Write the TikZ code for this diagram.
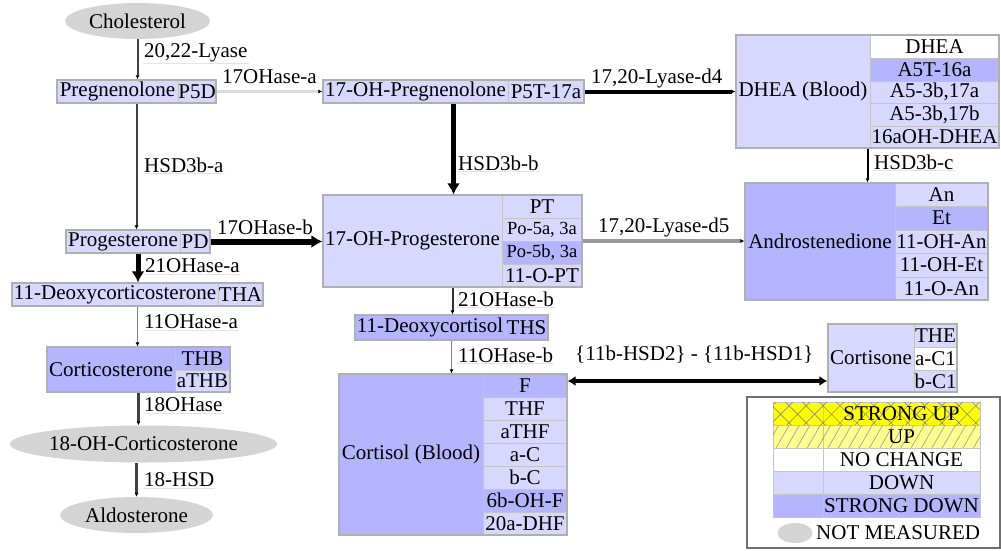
\documentclass[tikz,border=0pt]{standalone}
\usepackage{fontspec}
\setmainfont{Liberation Serif}
\newfontfamily\lserif{Liberation Serif}
\usetikzlibrary{shapes.geometric,arrows.meta,patterns.meta,calc}
\definecolor{dn}{HTML}{D7D7FF}
\definecolor{sd}{HTML}{B5B5FF}
\definecolor{cellb}{HTML}{C4C4C4}
\definecolor{frameb}{HTML}{B0B0B0}
\definecolor{ellg}{HTML}{D4D4D4}
\definecolor{ulg}{HTML}{E4E4E4}
\definecolor{syel}{HTML}{FFFF00}
\definecolor{lyel}{HTML}{FFFF90}
\definecolor{lgframe}{HTML}{707070}
\newcommand\dfont{\lserif\fontsize{21}{23}\selectfont}
\newcommand\lgfont{\lserif\fontsize{20}{22}\selectfont}
\newcommand\sfont{\lserif\fontsize{18.5}{19}\selectfont}
\newcommand\mycell[7][]{\node[cell,#1,minimum width={#5-#3},minimum height={#6-#4}] (#2) at ({(#3+#5)/2},{(#4+#6)/2}) {#7};}
\newcommand\mytable[5]{\node[tframe,minimum width={#4-#2},minimum height={#5-#3}] (#1) at ({(#2+#4)/2},{(#3+#5)/2}) {};}
\begin{document}
\begin{tikzpicture}[x=1pt,y=-1pt,
  cell/.style={draw=cellb, line width=1pt, inner sep=0pt, font=\dfont, align=center},
  tframe/.style={draw=frameb, line width=1.2pt, inner sep=0pt},
  ell/.style={ellipse, fill=ellg, inner sep=0pt, font=\dfont},
  elab/.style={inner sep=1pt, font=\dfont, anchor=west},
  uline/.style={draw=ulg, line width=1.5pt},
  tipS/.style={-{Latex[length=4pt,width=4pt,color=black]}},
  tipL/.style={-{Latex[length=11pt,width=13pt]}},
  edk/.style={draw=black!75, line width=2pt, tipS},
  elight/.style={draw=black!14, line width=3pt, tipS},
  ethin/.style={draw=black!50, line width=1.2pt, tipS},
  ebold/.style={draw=black, line width=4pt, tipS},
  ebig/.style={draw=black, line width=5pt, tipL},
  egray/.style={draw=black!40, line width=4pt, tipS},
  ]
\useasboundingbox (0,0) rectangle (1001,550);
\fill[white] (0,0) rectangle (1001,550);

% ---------- ellipses ----------
\node[ell, minimum width=145, minimum height=36] (chol) at (137.5,21) {Cholesterol};
\node[ell, minimum width=267, minimum height=37] (oh18) at (143.5,444) {18-OH-Corticosterone};
\node[ell, minimum width=153, minimum height=36] (aldo) at (136.5,515) {Aldosterone};

% ---------- Pregnenolone ----------
\mycell[fill=dn]{pregA}{57}{80}{178}{103}{Pregnenolone}
\mycell[fill=dn]{pregB}{178}{80}{216}{103}{P5D}
\mytable{pregT}{57}{80}{216}{103}

% ---------- 17-OH-Pregnenolone ----------
\mycell[fill=dn]{ohpA}{323}{80}{508}{103}{17-OH-Pregnenolone}
\mycell[fill=dn]{ohpB}{508}{80}{584}{103}{P5T-17a}
\mytable{ohpT}{323}{80}{584}{103}

% ---------- DHEA ----------
\mycell[fill=dn]{dheaA}{736}{35}{870}{148}{DHEA (Blood)}
\mycell[fill=white]{dheaB}{870}{35}{999}{58}{DHEA}
\mycell[fill=sd]{dheaC}{870}{58}{999}{81}{A5T-16a}
\mycell[fill=dn]{dheaD}{870}{81}{999}{103}{A5-3b,17a}
\mycell[fill=dn]{dheaE}{870}{103}{999}{126}{A5-3b,17b}
\mycell[fill=dn]{dheaF}{870}{126}{999}{148}{16aOH-DHEA}
\mytable{dheaT}{736}{35}{999}{148}

% ---------- Progesterone ----------
\mycell[fill=dn]{progA}{66}{230}{180}{253}{Progesterone}
\mycell[fill=dn]{progB}{180}{230}{210}{253}{PD}
\mytable{progT}{66}{230}{210}{253}

% ---------- 17-OH-Progesterone ----------
\mycell[fill=dn]{ohprA}{323}{195}{502}{287}{17-OH-Progesterone}
\mycell[fill=dn]{ohprB}{502}{195}{582}{218}{PT}
\mycell[fill=dn,font=\sfont]{ohprC}{502}{218}{582}{241}{Po-5a, 3a}
\mycell[fill=sd,font=\sfont]{ohprD}{502}{241}{582}{264}{Po-5b, 3a}
\mycell[fill=dn]{ohprE}{502}{264}{582}{287}{11-O-PT}
\mytable{ohprT}{323}{195}{582}{287}

% ---------- Androstenedione ----------
\mycell[fill=sd]{andA}{745}{183}{895}{300}{Androstenedione}
\mycell[fill=dn]{andB}{895}{183}{988}{206}{An}
\mycell[fill=sd]{andC}{895}{206}{988}{230}{Et}
\mycell[fill=dn]{andD}{895}{230}{988}{253}{11-OH-An}
\mycell[fill=dn]{andE}{895}{253}{988}{277}{11-OH-Et}
\mycell[fill=dn]{andF}{895}{277}{988}{300}{11-O-An}
\mytable{andT}{745}{183}{988}{300}

% ---------- 11-Deoxycorticosterone ----------
\mycell[fill=dn]{docA}{12}{283}{218}{306}{11-Deoxycorticosterone}
\mycell[fill=dn]{docB}{218}{283}{263}{306}{THA}
\mytable{docT}{12}{283}{263}{306}

% ---------- Corticosterone ----------
\mycell[fill=sd]{cortA}{47}{347}{175}{392}{Corticosterone}
\mycell[fill=sd]{cortB}{175}{347}{230}{370}{THB}
\mycell[fill=dn]{cortC}{175}{370}{230}{392}{aTHB}
\mytable{cortT}{47}{347}{230}{392}

% ---------- 11-Deoxycortisol ----------
\mycell[fill=sd]{dcsA}{355}{315}{505}{340}{11-Deoxycortisol}
\mycell[fill=sd]{dcsB}{505}{315}{548}{340}{THS}
\mytable{dcsT}{355}{315}{548}{340}

% ---------- Cortisol ----------
\mycell[fill=sd]{csolA}{339}{374}{483}{535}{Cortisol (Blood)}
\mycell[fill=sd]{csolB}{483}{374}{567}{397}{F}
\mycell[fill=dn]{csolC}{483}{397}{567}{420}{THF}
\mycell[fill=dn]{csolD}{483}{420}{567}{443}{aTHF}
\mycell[fill=dn]{csolE}{483}{443}{567}{466}{a-C}
\mycell[fill=dn]{csolF}{483}{466}{567}{489}{b-C}
\mycell[fill=sd]{csolG}{483}{489}{567}{512}{6b-OH-F}
\mycell[fill=dn]{csolH}{483}{512}{567}{535}{20a-DHF}
\mytable{csolT}{339}{374}{567}{535}

% ---------- Cortisone ----------
\mycell[fill=dn]{csA}{828}{324}{914}{392}{Cortisone}
\mycell[fill=dn]{csB}{914}{324}{957}{347}{THE}
\mycell[fill=white]{csC}{914}{347}{957}{370}{a-C1}
\mycell[fill=dn]{csD}{914}{370}{957}{392}{b-C1}
\mytable{csT}{828}{324}{957}{392}

% ---------- edges ----------
\draw[edk] (chol.south) -- (chol.south |- pregT.north);
\draw[elight] (pregT.east) -- (pregT.east -| ohpT.west);
\draw[edk] (pregT.south) -- (pregT.south |- progT.north);
\draw[ebold] (ohpT.east) -- (ohpT.east -| dheaT.west);
\draw[ebig] (ohpT.south) -- (ohpT.south |- ohprT.north);
\draw[draw=black, line width=2pt, tipS] (dheaT.south) -- (dheaT.south |- andT.north);
\draw[draw=black, line width=6pt, tipL] (progT.east) -- (progT.east -| ohprT.west);
\draw[egray] (ohprT.east) -- (ohprT.east -| andT.west);
\draw[ebig] (progT.south) -- (progT.south |- docT.north);
\draw[ethin] (docT.south) -- (docT.south |- cortT.north);
\draw[draw=black!80, line width=2pt, tipS] (ohprT.south) -- (ohprT.south |- dcsT.north);
\draw[ethin] (dcsT.south) -- (dcsT.south |- csolT.north);
\draw[edk, line width=2.5pt] (cortT.south) -- (cortT.south |- oh18.north);
\draw[edk, line width=2.5pt] (aldo.north |- oh18.south) -- (aldo.north);
\draw[draw=black, line width=4.5pt, {Latex[length=8pt,width=10pt]}-{Latex[length=8pt,width=10pt]}] (csolT.east |- csD.west) -- (csT.west |- csD.west);

% ---------- edge labels ----------
\node[elab] (l1) at (143,53) {20,22-Lyase};
\node[elab] (l2) at (221,77) {17OHase-a};
\node[elab] (l3) at (143,165) {HSD3b-a};
\node[elab] (l4) at (590,78) {17,20-Lyase-d4};
\node[elab] (l5) at (457,163) {HSD3b-b};
\node[elab] (l6) at (873,162) {HSD3b-c};
\node[elab] (l7) at (216,227) {17OHase-b};
\node[elab] (l8) at (597,227) {17,20-Lyase-d5};
\node[elab] (l9) at (144,266) {21OHase-a};
\node[elab] (l10) at (143,322) {11OHase-a};
\node[elab] (l11) at (457,299) {21OHase-b};
\node[elab] (l12) at (457,355) {11OHase-b};
\node[elab] (l13) at (143,405) {18OHase};
\node[elab] (l14) at (143,480) {18-HSD};
\node[elab] (l15) at (574,355) {\{11b-HSD2\} - \{11b-HSD1\}};
\foreach \l in {l1,l3,l5,l6,l9,l10,l11,l12,l13,l14}
  \draw[uline] (\l.south west) -- (\l.south east);

% ---------- legend ----------
\node[draw=lgframe, line width=2pt, inner sep=0pt, minimum width=253, minimum height=151] (legT) at (873.5,472.5) {};
\begin{scope}[every node/.append style={font=\lgfont}]
\mycell[fill=syel, postaction={pattern={Hatch[angle=45,distance=12pt,line width=0.6pt]}, pattern color=black!45}]{lgA1}{773}{402}{823}{425}{}
\mycell[fill=syel, postaction={pattern={Hatch[angle=45,distance=12pt,line width=0.6pt]}, pattern color=black!45}]{lgA2}{823}{402}{980}{425}{STRONG UP}
\mycell[fill=lyel, postaction={pattern={Lines[angle=60,distance=9pt,line width=0.6pt]}, pattern color=black!40}]{lgB1}{773}{425}{823}{448}{}
\mycell[fill=lyel, postaction={pattern={Lines[angle=60,distance=9pt,line width=0.6pt]}, pattern color=black!40}]{lgB2}{823}{425}{980}{448}{UP}
\mycell[fill=white]{lgC1}{773}{448}{823}{471}{}
\mycell[fill=white]{lgC2}{823}{448}{980}{471}{NO CHANGE}
\mycell[fill=dn]{lgD1}{773}{471}{823}{494}{}
\mycell[fill=dn]{lgD2}{823}{471}{980}{494}{DOWN}
\mycell[fill=sd]{lgE1}{773}{494}{823}{517}{}
\mycell[fill=sd]{lgE2}{823}{494}{980}{517}{STRONG DOWN}
\node[ell, minimum width=35, minimum height=20] (lgell) at (795,533) {};
\node[elab, anchor=west] (lgnm) at (815,533) {NOT MEASURED};
\end{scope}
\end{tikzpicture}
\end{document}
